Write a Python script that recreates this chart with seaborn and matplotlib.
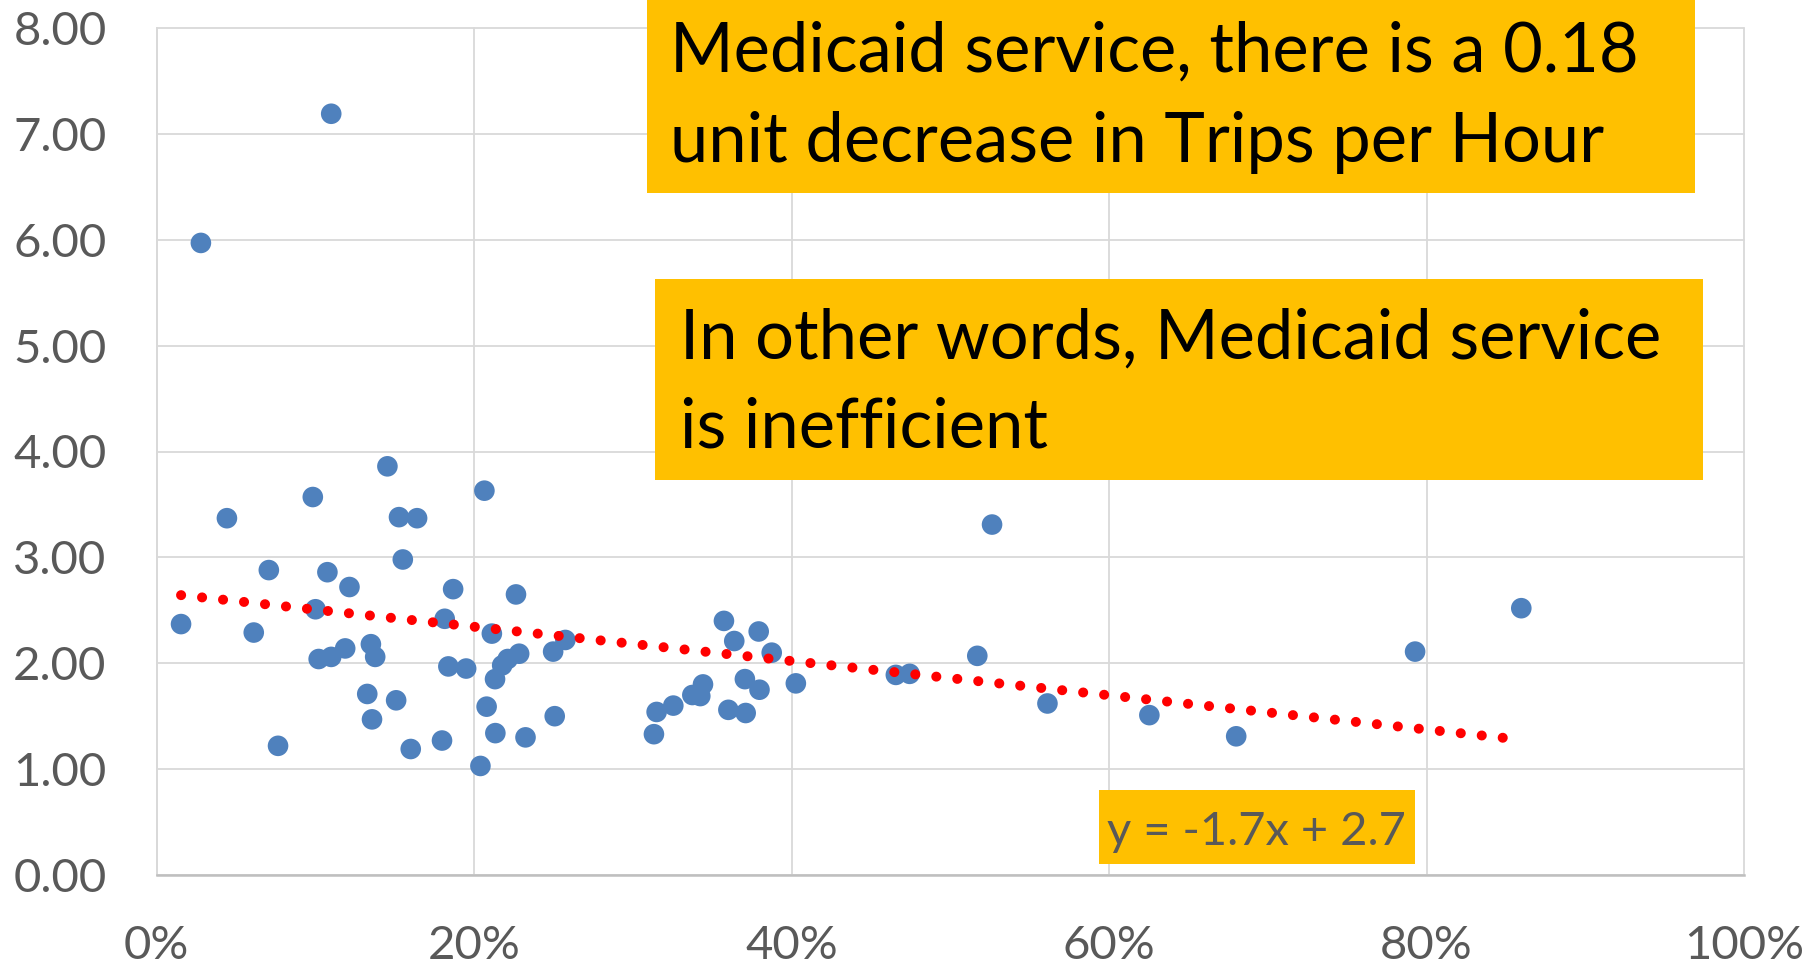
import numpy as np
import pandas as pd
import matplotlib
matplotlib.use('Agg')
import matplotlib.pyplot as plt
import seaborn as sns
from matplotlib.patches import Rectangle
from matplotlib.ticker import PercentFormatter, FormatStrFormatter

# 数据
medicaid_share = [0.0154, 0.0279, 0.0443, 0.0612, 0.0707, 0.0765, 0.0984, 0.1001, 0.1021, 0.1076,
                  0.1100, 0.1100, 0.1188, 0.1215, 0.1327, 0.1350, 0.1357, 0.1377, 0.1454, 0.1509,
                  0.1527, 0.1551, 0.1601, 0.1641, 0.1798, 0.1815, 0.1838, 0.1868, 0.1950, 0.2040,
                  0.2065, 0.2079, 0.2112, 0.2132, 0.2134, 0.2177, 0.2212, 0.2264, 0.2284, 0.2324,
                  0.2498, 0.2508, 0.2575, 0.3133, 0.3150, 0.3255, 0.3375, 0.3425, 0.3442, 0.3574,
                  0.3602, 0.3639, 0.3706, 0.3711, 0.3793, 0.3798, 0.3875, 0.4027, 0.4657, 0.4744,
                  0.5170, 0.5263, 0.5612, 0.6254, 0.6801, 0.7928, 0.8597]
trips_per_hour = [2.37, 5.97, 3.37, 2.29, 2.88, 1.22, 3.57, 2.51, 2.04, 2.86,
                  7.19, 2.06, 2.14, 2.72, 1.71, 2.18, 1.47, 2.06, 3.86, 1.65,
                  3.38, 2.98, 1.19, 3.37, 1.27, 2.42, 1.97, 2.70, 1.95, 1.03,
                  3.63, 1.59, 2.28, 1.85, 1.34, 1.98, 2.04, 2.65, 2.09, 1.30,
                  2.11, 1.50, 2.22, 1.33, 1.54, 1.60, 1.70, 1.69, 1.80, 2.40,
                  1.56, 2.21, 1.85, 1.53, 2.30, 1.75, 2.10, 1.81, 1.89, 1.90,
                  2.07, 3.31, 1.62, 1.51, 1.31, 2.11, 2.52]

x_ticks = [0, 0.2, 0.4, 0.6, 0.8, 1.0]
y_ticks = [0, 1, 2, 3, 4, 5, 6, 7, 8]

note_1 = ['Medicaid service, there is a 0.18', 'unit decrease in Trips per Hour']
note_2 = ['In other words, Medicaid service', 'is inefficient']
equation = 'y = -1.7x + 2.7'

df = pd.DataFrame({'share': medicaid_share, 'trips': trips_per_hour})

sns.set_theme(style='white')
plt.rcParams['font.family'] = ['Lato', 'DejaVu Sans']

W, H = 1814, 966
fig = plt.figure(figsize=(W / 100, H / 100), dpi=100)
ax = fig.add_axes([156.6 / W, 1 - 875 / H, (1744 - 156.6) / W, (875 - 28) / H])

sns.scatterplot(data=df, x='share', y='trips', ax=ax, color='#4F81BD',
                s=220, edgecolor='none', zorder=3)
sns.regplot(data=df, x='share', y='trips', ax=ax, scatter=False, ci=None, truncate=True,
            line_kws=dict(color='#FF0000', lw=7.2, linestyle=(0, (0.01, 2.1)),
                          dash_capstyle='round', zorder=4))

ax.set_xlim(0, 1)
ax.set_ylim(0, 8)
ax.set_xticks(x_ticks)
ax.set_yticks(y_ticks)
ax.xaxis.set_major_formatter(PercentFormatter(1.0, decimals=0))
ax.yaxis.set_major_formatter(FormatStrFormatter('%.2f'))
ax.set_xlabel('')
ax.set_ylabel('')
ax.grid(True, color='#D9D9D9', lw=1.3)
ax.set_axisbelow(True)
for gl in ax.get_xgridlines() + ax.get_ygridlines():
    gl.set_clip_on(False)
ax.tick_params(axis='both', length=0, labelsize=34, labelcolor='#595959')
ax.tick_params(axis='y', pad=36)
ax.tick_params(axis='x', pad=36)
for side in ['top', 'right']:
    ax.spines[side].set_visible(False)
ax.spines['left'].set_color('#D9D9D9')
ax.spines['left'].set_linewidth(1.3)
ax.spines['bottom'].set_color('#BFBFBF')
ax.spines['bottom'].set_linewidth(1.8)

renderer = fig.canvas.get_renderer()


def fit_size(s, width_px, size=40):
    t = fig.text(0, 0, s, fontsize=size)
    w = t.get_window_extent(renderer).width
    t.remove()
    return size * width_px / w


def add_box(x0, y0, x1, y1):
    fig.patches.append(Rectangle((x0 / W, 1 - y1 / H), (x1 - x0) / W, (y1 - y0) / H,
                                 transform=fig.transFigure, facecolor='#FFC000',
                                 edgecolor='none', zorder=1))


# 注释框 1
add_box(646.5, -2, 1695, 193.3)
fs1 = fit_size(note_1[0], 968)
fig.text(670 / W, 1 - 71.7 / H, note_1[0], fontsize=fs1, color='black', va='baseline', zorder=2)
fig.text(670 / W, 1 - 161.7 / H, note_1[1], fontsize=fs1, color='black', va='baseline', zorder=2)

# 注释框 2
add_box(655, 279, 1703, 479.7)
fs2 = fit_size(note_2[0], 980)
fig.text(679.8 / W, 1 - 358.3 / H, note_2[0], fontsize=fs2, color='black', va='baseline', zorder=2)
fig.text(679.8 / W, 1 - 447.3 / H, note_2[1], fontsize=fs2, color='black', va='baseline', zorder=2)

# 趋势线方程
add_box(1099, 790, 1415, 863.5)
fs3 = fit_size(equation, 299)
fig.text(1107 / W, 1 - 845 / H, equation, fontsize=fs3, color='#595959', va='baseline', zorder=2)

fig.savefig('out.png', dpi=100)
